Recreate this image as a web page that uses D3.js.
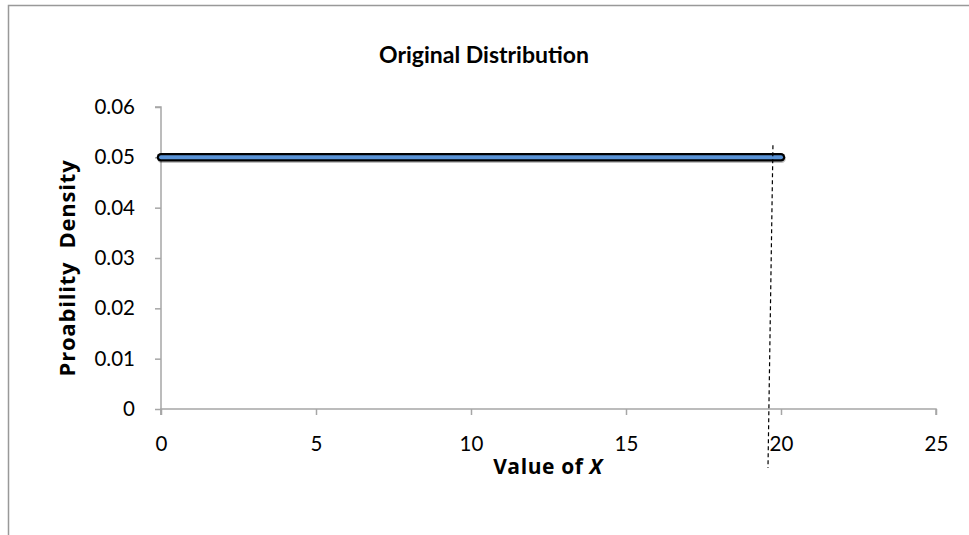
<!DOCTYPE html>
<html><head><meta charset="utf-8">
<script src="https://cdn.jsdelivr.net/npm/d3@7"></script>
<style>body{margin:0;background:#fff}svg{display:block}text{font-family:Lato,"Open Sans",sans-serif}</style>
</head><body><svg id="c" width="969" height="535"></svg>
<script>
const xValues=[0,20];
const yValues=[0.05,0.05];
const xTicks=[0,5,10,15,20,25];
const yTicks=[0,0.01,0.02,0.03,0.04,0.05,0.06];
const yTickLabels=["0","0.01","0.02","0.03","0.04","0.05","0.06"];
const markerX=[19.74,19.58];
const markerY=[0.0524,-0.0117];
const title="Original Distribution";
const yTitle="Proability  Density";

const svg=d3.select("#c");
const m={l:161,r:936,t:107,b:409};
const x=d3.scaleLinear().domain([0,25]).range([m.l,m.r]);
const y=d3.scaleLinear().domain([0,0.06]).range([m.b,m.t]);
const axisColor="#a6a6a6";

svg.append("path").attr("d","M8.5,535 V5.5 H969").attr("fill","none").attr("stroke","#999").attr("stroke-width",1.5);

svg.append("text").attr("x",484).attr("y",63).attr("text-anchor","middle")
  .attr("font-size",23).attr("font-weight","bold").text(title);

const gx=svg.append("g").attr("transform",`translate(0,${m.b})`)
  .call(d3.axisBottom(x).tickValues(xTicks).tickSize(6).tickPadding(21).tickFormat(d3.format("d")));
const gy=svg.append("g").attr("transform",`translate(${m.l},0)`)
  .call(d3.axisLeft(y).tickValues(yTicks).tickSize(6).tickPadding(20).tickFormat((d,i)=>yTickLabels[i]));
[gx,gy].forEach(g=>{
  g.attr("font-family",null).attr("font-size",null);
  g.select(".domain").attr("stroke",axisColor).attr("stroke-width",1.5);
  g.selectAll(".tick line").attr("stroke",axisColor).attr("stroke-width",1.5);
  g.selectAll(".tick text").attr("fill","#000").style("font-size","20.5px").style("font-family","Lato,'Open Sans',sans-serif");
});
gx.select(".domain").attr("d",`M${m.l},6V0H${m.r}V6`);
gy.select(".domain").attr("d",`M-6,${m.t}H0V${m.b+6}`);

const xt=svg.append("text").attr("x",548).attr("y",474).attr("text-anchor","middle")
  .style("font-family","'Open Sans',Lato,sans-serif").style("font-size","21px").attr("font-weight","bold").style("letter-spacing","0.6px");
xt.append("tspan").text("Value of ");
xt.append("tspan").attr("font-style","italic").text("X");

svg.append("text").attr("transform","translate(75,268) rotate(-90)").attr("text-anchor","middle")
  .style("font-family","'Open Sans',Lato,sans-serif").style("font-size","22px").attr("font-weight","bold")
  .style("letter-spacing","0.8px").style("white-space","pre").text(yTitle);

const pts=xValues.map((v,i)=>[v,yValues[i]]);
const line=d3.line().x(d=>x(d[0])).y(d=>y(d[1]));
svg.append("path").attr("d",line(pts)).attr("transform","translate(0.5,1.5)").attr("stroke","#000").attr("stroke-opacity",0.25)
  .attr("stroke-width",8.5).attr("stroke-linecap","round").attr("fill","none");
svg.append("path").attr("d",line(pts)).attr("stroke","#000").attr("stroke-width",8.5).attr("stroke-linecap","round").attr("fill","none");
svg.append("path").attr("d",line(pts)).attr("stroke","#5a93d6").attr("stroke-width",4).attr("stroke-linecap","round").attr("fill","none");

const mk=markerX.map((v,i)=>[v,markerY[i]]);
svg.append("path").attr("d",line(mk)).attr("stroke","#000").attr("stroke-width",1.2)
  .attr("stroke-dasharray","4,3").attr("fill","none");
</script></body></html>
